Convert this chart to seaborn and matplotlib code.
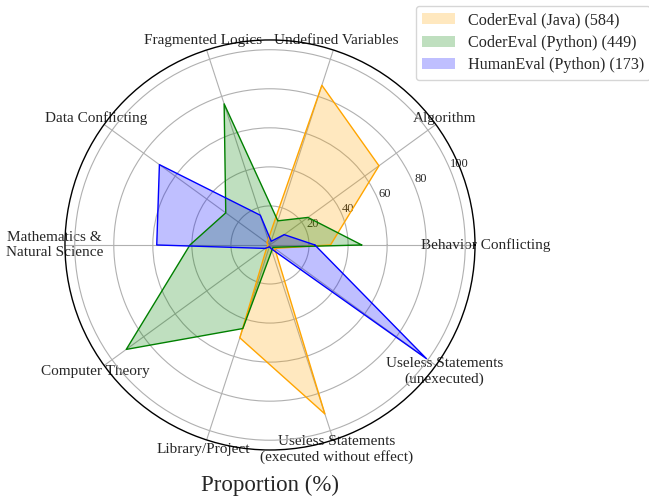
import numpy as np
import pandas as pd
import matplotlib
matplotlib.use("Agg")
import matplotlib.pyplot as plt
import seaborn as sns

# ----------------------------
# Data
# ----------------------------

categories = [
    "Behavior Conflicting",
    "Algorithm",
    "Undefined Variables",
    "Fragmented Logics",
    "Data Conflicting",
    "Mathematics &\nNatural Science",
    "Computer Theory",
    "Library/Project",
    "Useless Statements\n(executed without effect)",
    "Useless Statements\n(unexecuted)",
]

java_values = [31, 69, 86, 3, 2, 1, 2, 50, 91, 3]
python_values = [47, 24, 13, 76, 28, 41, 91, 45, 3, 2]
human_values = [23, 9, 2, 16, 70, 58, 3, 1, 2, 99]

series_names = [
    "CoderEval (Java) (584)",
    "CoderEval (Python) (449)",
    "HumanEval (Python) (173)",
]
series_colors = ["orange", "green", "blue"]
r_ticks = [20, 40, 60, 80, 100]

# ----------------------------
# Style
# ----------------------------

sns.set_style("white")
plt.rcParams["font.family"] = ["Liberation Serif", "DejaVu Serif"]

angles = np.linspace(0, 2 * np.pi, len(categories), endpoint=False)
closed_angles = np.append(angles, angles[0] + 2 * np.pi)

rows = []
for name, vals in zip(series_names, [java_values, python_values, human_values]):
    for a, v in zip(closed_angles, vals + vals[:1]):
        rows.append({"series": name, "angle": a, "value": v})
df = pd.DataFrame(rows)

fig = plt.figure(figsize=(6.49, 4.97), dpi=100)
ax = fig.add_axes([0.1, 0.0946, 0.632, 0.825], projection="polar")

# ----------------------------
# Plot
# ----------------------------

for name, color in zip(series_names, series_colors):
    sub = df[df["series"] == name]
    ax.fill(sub["angle"], sub["value"], color=color, alpha=0.25, lw=0, label=name)

sns.lineplot(
    data=df,
    x="angle",
    y="value",
    hue="series",
    palette=dict(zip(series_names, series_colors)),
    sort=False,
    estimator=None,
    lw=1,
    legend=False,
    ax=ax,
)

ax.set_ylim(0, 105)
ax.set_yticks(r_ticks)
ax.set_yticklabels([str(t) for t in r_ticks], fontsize=9)
ax.set_rlabel_position(22.5)
ax.set_xticks(angles)
ax.set_xticklabels(categories, fontsize=11)
ax.tick_params(axis="x", pad=-3)
ax.set_xlabel("")
ax.set_ylabel("")
ax.grid(True, color="#b0b0b0", lw=0.8)
ax.spines["polar"].set_color("black")
ax.spines["polar"].set_linewidth(1)

ax.legend(
    loc="upper left",
    bbox_to_anchor=(416 / 649, 1 - 6 / 497),
    bbox_transform=fig.transFigure,
    borderaxespad=0,
    fontsize=11.6,
    labelspacing=0.4,
    frameon=True,
)

fig.text(270 / 649, 1 - 485 / 497, "Proportion (%)", ha="center", va="center", fontsize=16.5)

plt.savefig("out.png", dpi=100)
